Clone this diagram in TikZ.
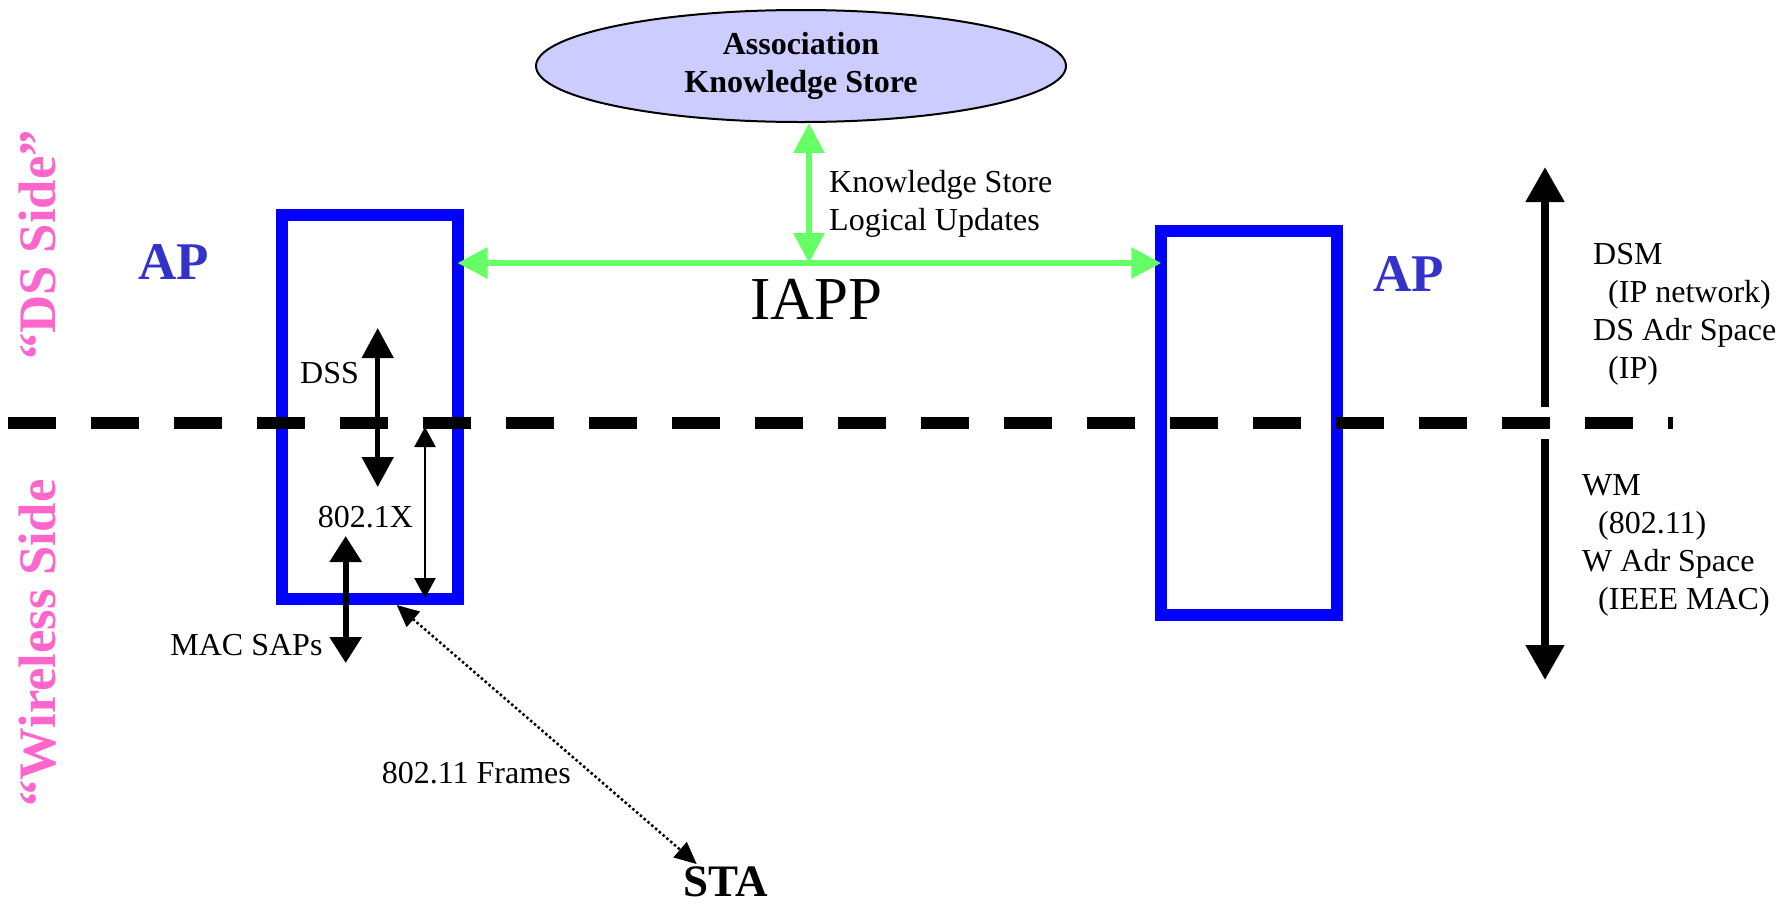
\documentclass[tikz,border=0pt]{standalone}
\usepackage{fontspec}
\setmainfont{Liberation Serif}
\usetikzlibrary{arrows.meta,shapes.geometric}

\definecolor{apblue}{RGB}{0,0,255}
\definecolor{aplabel}{RGB}{51,51,204}
\definecolor{iappgreen}{RGB}{102,255,102}
\definecolor{storefill}{RGB}{204,204,255}
\definecolor{sidepink}{RGB}{255,102,204}

\begin{document}
\begin{tikzpicture}[x=1pt,y=-1pt,
    ap/.style={draw=apblue, line width=12pt, minimum width=176pt, minimum height=384pt, inner sep=0pt, outer sep=0pt},
    store/.style={ellipse, draw, line width=2pt, fill=storefill, minimum width=530pt, minimum height=112pt, align=center, font=\fontsize{32}{38}\selectfont\bfseries},
    txt/.style={inner sep=0pt, align=left, font=\fontsize{32}{38}\selectfont},
    aplbl/.style={inner sep=0pt, anchor=base west, text=aplabel, font=\fontsize{53}{60}\selectfont\bfseries},
    side/.style={inner sep=0pt, rotate=90, anchor=base, text=sidepink, font=\fontsize{52.7}{60}\selectfont\bfseries},
    iapp/.style={draw=iappgreen, line width=6pt, <->, >={Triangle[length=30pt,width=30pt]}},
    dss/.style={line width=5pt, <->, >={Triangle[length=30pt,width=31pt]}},
    eap/.style={line width=2.5pt, <->, >={Triangle[length=20pt,width=21pt]}},
    sap/.style={line width=6pt, <->, >={Triangle[length=26pt,width=31pt]}},
    medium/.style={line width=8pt, ->, >={Triangle[length=35pt,width=37pt]}},
    radio/.style={line width=2.5pt, dash pattern=on 2.5pt off 2.5pt, <->, >={Triangle[length=22pt,width=20pt]}},
    boundary/.style={line width=11.5pt, dash pattern=on 47.7pt off 35.3pt}]

   \useasboundingbox (0,0) rectangle (1787,906);

   \node[store] (store) at (801,66) {Association\\Knowledge Store};
   \node[ap] (ap1) at (369.5,407) {};
   \node[ap] (ap2) at (1249.25,423) {};

   \coordinate (mid) at (809,263);
   \coordinate (dashL) at (8,423);
   \coordinate (dashR) at (1673,423);
   \coordinate (dsmTop) at (1545,167);
   \coordinate (dsmBot) at (1545,407);
   \coordinate (wmTop) at (1545,439);
   \coordinate (wmBot) at (1545,680);
   \coordinate (dssTop) at (377.7,328);
   \coordinate (dssBot) at (377.7,487);
   \coordinate (eapTop) at (425,427);
   \coordinate (eapBot) at (425,598);
   \coordinate (sapTop) at (345.7,536);
   \coordinate (sapBot) at (345.7,663);
   \coordinate (frA) at (396.7,605);
   \coordinate (frB) at (696.7,864);

   \draw[boundary] (dashL) -- (dashR);

   \draw[iapp] (ap1.east |- mid) -- (ap2.west |- mid);
   \draw[iapp] (mid |- store.south) -- (mid);

   \draw[medium] (dsmBot) -- (dsmTop);
   \draw[medium] (wmTop) -- (wmBot);
   \draw[dss] (dssTop) -- (dssBot);
   \draw[eap] (eapTop) -- (eapBot);
   \draw[sap] (sapTop) -- (sapBot);
   \draw[radio] (frA) -- (frB);

   \node[aplbl] (apl1) at (138,279) {AP};
   \node[aplbl] (apl2) at (1373,291.7) {AP};
   \node[inner sep=0pt, anchor=base, font=\fontsize{61}{70}\selectfont] (iappl) at (816.7,319.3) {IAPP};
   \node[inner sep=0pt, anchor=base west, font=\fontsize{45}{54}\selectfont\bfseries] (sta) at (683.3,896) {STA};

   \node[txt, anchor=north west] (ksu) at (829,170) {Knowledge Store\\Logical Updates};
   \node[txt, anchor=base west] (dssl) at (300,383) {DSS};
   \node[txt, anchor=base west] (eapl) at (317.7,527.7) {802.1X};
   \node[txt, anchor=base east] (sapl) at (322.7,655) {MAC SAPs};
   \node[txt, anchor=base west] (frl) at (381.7,783.3) {802.11 Frames};
   \node[txt, anchor=north west] (dsm) at (1593,243.4) {DSM\\\hspace*{15pt}(IP network)\\DS Adr Space\\\hspace*{15pt}(IP)};
   \node[txt, anchor=north west] (wm) at (1582,474) {WM\\\hspace*{16pt}(802.11)\\W Adr Space\\\hspace*{16pt}(IEEE MAC)};

   \node[side] (dsside) at (55,245) {“DS Side”};
   \node[side] (wside) at (55,643) {“Wireless Side};
\end{tikzpicture}
\end{document}
